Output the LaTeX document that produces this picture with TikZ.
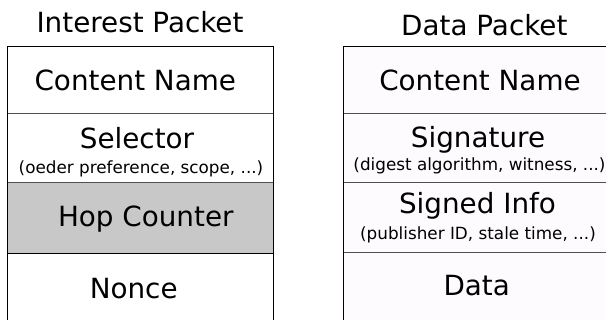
\documentclass[tikz,border=0pt]{standalone}
\usepackage{fontspec}
\setmainfont{DejaVu Sans}
\definecolor{hopgray}{HTML}{C8C8C8}
\definecolor{datafill}{HTML}{FDFBFD}
\definecolor{divline}{HTML}{505050}
\begin{document}
\begin{tikzpicture}[x=1pt,y=-1pt,
  big/.style={inner sep=0pt,anchor=base,font=\fontsize{27.8}{30}\selectfont},
  small/.style={inner sep=0pt,anchor=base,font=\fontsize{16.8}{19}\selectfont},
  outer/.style={draw=black,line width=1.1pt},
  divider/.style={draw=divline,line width=1pt}]
\useasboundingbox (0,0) rectangle (606,320);
% left packet
\fill[white] (7.3,46.7) rectangle (273.3,330);
\fill[hopgray] (7.3,182.7) rectangle (273.3,253.3);
\draw[divider] (7.3,113.7) -- (273.3,113.7);
\draw[divider] (7.3,182.7) -- (273.3,182.7);
\draw[outer] (7.3,253.3) -- (273.3,253.3);
\draw[outer] (7.3,330) -- (7.3,46.7) -- (273.3,46.7) -- (273.3,330);
% right packet
\fill[datafill] (343.3,46.7) rectangle (615,330);
\draw[divider] (343.3,113.7) -- (615,113.7);
\draw[divider] (343.3,183) -- (615,183);
\draw[divider] (343.3,252.3) -- (615,252.3);
\draw[outer] (343.3,330) -- (343.3,46.7) -- (615,46.7) -- (615,330);
% left texts
\node[big] (ititle) at (140,32.7) {Interest Packet};
\node[big] (iname) at (135.3,90.7) {Content Name};
\node[big] (isel) at (137,149) {Selector};
\node[small] (iselsub) at (141,173.3) {(oeder preference, scope, ...)};
\node[big] (ihop) at (145.8,226.7) {Hop Counter};
\node[big] (inonce) at (133.7,298.3) {Nonce};
% right texts
\node[big] (dtitle) at (484.3,35.7) {Data Packet};
\node[big] (dname) at (480,90.7) {Content Name};
\node[big] (dsig) at (478,147.7) {Signature};
\node[small] (dsigsub) at (479.5,170.7) {(digest algorithm, witness, ...)};
\node[big] (dinfo) at (477.5,213.3) {Signed Info};
\node[small] (dinfosub) at (478,239.3) {(publisher ID, stale time, ...)};
\node[big] (ddata) at (476.7,296) {Data};
\end{tikzpicture}
\end{document}
